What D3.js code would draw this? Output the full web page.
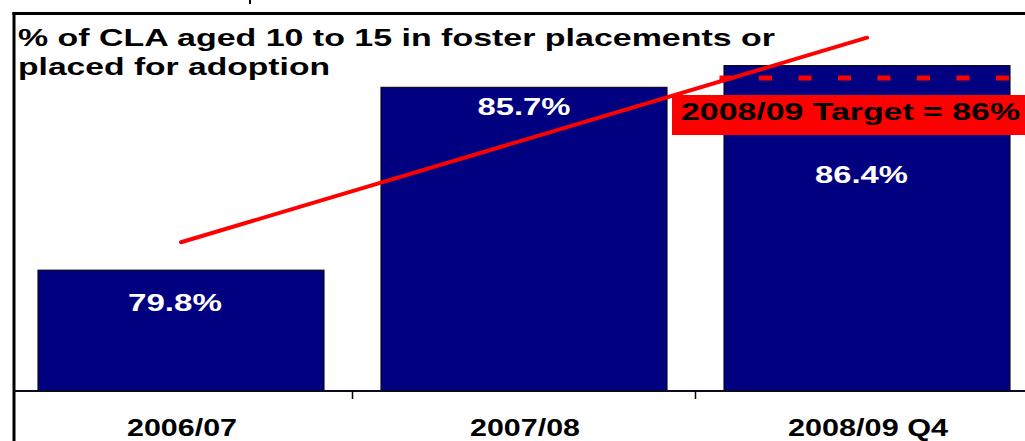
<!DOCTYPE html>
<html>
<head>
<meta charset="utf-8">
<script src="https://cdn.jsdelivr.net/npm/d3@7"></script>
<style>
  html, body { margin: 0; padding: 0; background: #fff; }
  svg { display: block; }
  text { font-family: "Liberation Sans", Arial, sans-serif; font-weight: bold; }
</style>
</head>
<body>
<svg id="chart" width="1025" height="441"></svg>
<script>
// ---- data ----
const categories = ["2006/07", "2007/08", "2008/09 Q4"];
const values = [79.8, 85.7, 86.4];
const valueLabels = ["79.8%", "85.7%", "86.4%"];
const targetValue = 86;
const targetLabel = "2008/09 Target = 86%";
const trendValues = [80.7, 87.3];          // hand-drawn trend arrow, start (first category) to end (last category)
const titleLines = ["% of CLA aged 10 to 15 in foster placements or", "placed for adoption"];

// ---- layout (not data) ----
const W = 1025, H = 441;
const baseY = 391, topY = 16;
const labelDX = [-6, 0, -5.5];
const labelDY = [41, 28, 117];
const labelW = [94, 93, 93];
const catLabelW = [110, 110, 160];

const svg = d3.select("#chart");

const x = d3.scaleBand().domain(categories).range([9.5, 1038.5])
  .paddingInner(0.166).paddingOuter(0.083);
const y = d3.scaleLinear().domain([75.9, 88.0]).range([baseY, topY]);

// small stray tick at top
svg.append("line").attr("x1", 250).attr("x2", 250).attr("y1", 0).attr("y2", 4)
  .attr("stroke", "#000").attr("stroke-width", 2);

// frame
svg.append("line").attr("x1", 12.5).attr("x2", W).attr("y1", 13.5).attr("y2", 13.5)
  .attr("stroke", "#000").attr("stroke-width", 3);
svg.append("line").attr("x1", 14).attr("x2", 14).attr("y1", 12).attr("y2", H)
  .attr("stroke", "#000").attr("stroke-width", 3);

// title
titleLines.forEach((t, i) => {
  svg.append("text").attr("x", 18).attr("y", [45.5, 75][i])
    .attr("font-size", 24).attr("fill", "#000")
    .attr("textLength", [757, 312][i]).attr("lengthAdjust", "spacingAndGlyphs")
    .text(t);
});

// bars
svg.selectAll("rect.bar").data(values).enter().append("rect")
  .attr("class", "bar")
  .attr("x", (d, i) => x(categories[i]))
  .attr("y", d => y(d))
  .attr("width", x.bandwidth())
  .attr("height", d => baseY - y(d))
  .attr("fill", "#000080")
  .attr("stroke", "#000").attr("stroke-width", 1);

// value labels
svg.selectAll("text.vlab").data(values).enter().append("text")
  .attr("class", "vlab")
  .attr("x", (d, i) => x(categories[i]) + x.bandwidth() / 2 + labelDX[i])
  .attr("y", (d, i) => y(d) + labelDY[i])
  .attr("text-anchor", "middle")
  .attr("font-size", 24).attr("fill", "#fff")
  .attr("textLength", (d, i) => labelW[i]).attr("lengthAdjust", "spacingAndGlyphs")
  .text((d, i) => valueLabels[i]);

// x axis
const xAxis = d3.axisBottom(x).tickSize(0).tickFormat("");
const gx = svg.append("g").attr("transform", `translate(0,${baseY})`).call(xAxis);
gx.select(".domain").remove();
svg.append("line").attr("x1", 14).attr("x2", W).attr("y1", baseY).attr("y2", baseY)
  .attr("stroke", "#0a0a20").attr("stroke-width", 2);
// ticks between categories
const step = x.step();
categories.slice(1).forEach(c => {
  const tx = x(c) - (step - x.bandwidth()) / 2;
  svg.append("line").attr("x1", tx).attr("x2", tx).attr("y1", baseY).attr("y2", baseY + 8)
    .attr("stroke", "#000").attr("stroke-width", 1.5);
});
// category labels
svg.selectAll("text.clab").data(categories).enter().append("text")
  .attr("class", "clab")
  .attr("x", d => x(d) + x.bandwidth() / 2 + 1)
  .attr("y", 436)
  .attr("text-anchor", "middle")
  .attr("font-size", 23).attr("fill", "#000")
  .attr("textLength", (d, i) => catLabelW[i]).attr("lengthAdjust", "spacingAndGlyphs")
  .text(d => d);

// target dashed line
const lastC = categories[categories.length - 1];
const tX0 = x(lastC) - 11;
svg.append("line").attr("x1", tX0).attr("x2", W).attr("y1", y(targetValue)).attr("y2", y(targetValue))
  .attr("stroke", "#ff0000").attr("stroke-width", 5)
  .attr("stroke-dasharray", "13,26.5").attr("stroke-dashoffset", 33);

// trend line
const trendLine = d3.line().x(d => d[0]).y(d => d[1]);
svg.append("path")
  .datum([[x(categories[0]) + x.bandwidth() / 2, y(trendValues[0])],
          [x(lastC) + x.bandwidth() / 2, y(trendValues[1])]])
  .attr("d", trendLine)
  .attr("fill", "none").attr("stroke", "#ff0000").attr("stroke-width", 4)
  .attr("stroke-linecap", "round");

// target label box
svg.append("rect").attr("x", 672).attr("y", 95).attr("width", W - 672 + 5).attr("height", 40)
  .attr("fill", "#ff0000");
svg.append("text").attr("x", 681).attr("y", 120)
  .attr("font-size", 23.5).attr("fill", "#000")
  .attr("textLength", 339).attr("lengthAdjust", "spacingAndGlyphs")
  .text(targetLabel);
</script>
</body>
</html>
